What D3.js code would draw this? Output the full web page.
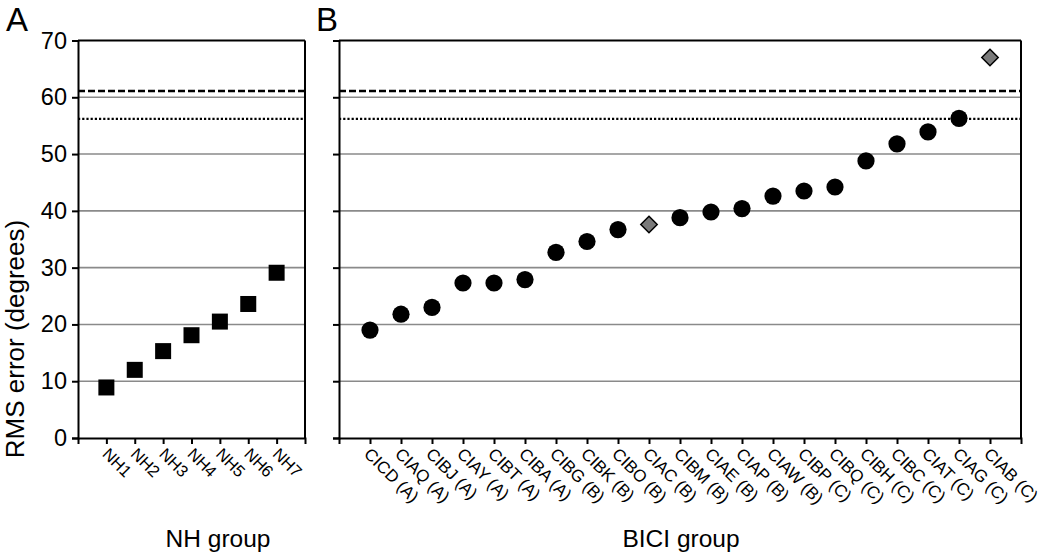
<!DOCTYPE html>
<html>
<head>
<meta charset="utf-8">
<script src="https://cdn.jsdelivr.net/npm/d3@7"></script>
<style>
  html, body { margin: 0; padding: 0; background: #fff; }
  svg { display: block; font-family: "Liberation Sans", Arial, Helvetica, sans-serif; }
</style>
</head>
<body>
<svg id="chart" width="1050" height="559"></svg>
<script>
// ---- data ----
const nhCategories = ["NH1", "NH2", "NH3", "NH4", "NH5", "NH6", "NH7"];
const nhValues = [8.9, 12.0, 15.3, 18.1, 20.5, 23.6, 29.1];

const biciCategories = ["CICD (A)", "CIAQ (A)", "CIBJ (A)", "CIAY (A)", "CIBT (A)", "CIBA (A)",
  "CIBG (B)", "CIBK (B)", "CIBO (B)", "CIAC (B)", "CIBM (B)", "CIAE (B)", "CIAP (B)", "CIAW (B)",
  "CIBP (C)", "CIBQ (C)", "CIBH (C)", "CIBC (C)", "CIAT (C)", "CIAG (C)", "CIAB (C)"];
const biciValues = [19.0, 21.8, 23.0, 27.3, 27.3, 27.9, 32.7, 34.6, 36.7, 37.6, 38.8, 39.8, 40.4,
  42.6, 43.5, 44.2, 48.8, 51.8, 53.9, 56.3, 67.0];
const biciDiamondCategories = ["CIAC (B)", "CIAB (C)"];

const yTicks = [0, 10, 20, 30, 40, 50, 60, 70];
const dashedRef = 61.1;
const dottedRef = 56.2;

const panelLabels = ["A", "B"];
const xTitles = ["NH group", "BICI group"];
const yTitle = "RMS error (degrees)";

// ---- layout ----
const svg = d3.select("#chart");
const plotTop = 40.5, plotBottom = 438;
const y = d3.scaleLinear().domain([0, 70]).range([plotBottom, plotTop]);

function drawPanel(opts) {
  const { x0, x1, categories, showYLabels, panelLabel, panelLabelX, xTitle, xTitleX, labelSize, labelDx, markers } = opts;
  const x = d3.scalePoint().domain(categories).range([x0, x1]).padding(1);
  const g = svg.append("g");

  // gridlines
  g.selectAll("line.grid").data(yTicks.filter(t => t > 0 && t < 70)).enter().append("line")
    .attr("x1", x0).attr("x2", x1)
    .attr("y1", d => y(d)).attr("y2", d => y(d))
    .attr("stroke", "#8a8a8a").attr("stroke-width", 1.6);

  // reference lines
  g.append("line").attr("x1", x0).attr("x2", x1)
    .attr("y1", y(dashedRef)).attr("y2", y(dashedRef))
    .attr("stroke", "#000").attr("stroke-width", 2.6).attr("stroke-dasharray", "7,3");
  g.append("line").attr("x1", x0).attr("x2", x1)
    .attr("y1", y(dottedRef)).attr("y2", y(dottedRef))
    .attr("stroke", "#000").attr("stroke-width", 2.2).attr("stroke-dasharray", "2.2,2");

  // frame top & right
  g.append("line").attr("x1", x0).attr("x2", x1).attr("y1", plotTop).attr("y2", plotTop)
    .attr("stroke", "#000").attr("stroke-width", 2);
  g.append("line").attr("x1", x1).attr("x2", x1).attr("y1", plotTop).attr("y2", plotBottom)
    .attr("stroke", "#000").attr("stroke-width", 2);

  // y axis
  const yAxis = d3.axisLeft(y).tickValues(yTicks).tickSize(6).tickPadding(5)
    .tickFormat(showYLabels ? d3.format("d") : () => "");
  const ya = g.append("g").attr("transform", `translate(${x0},0)`).call(yAxis);
  ya.attr("font-family", null);
  ya.selectAll("path, line").attr("stroke", "#000").attr("stroke-width", 2);
  ya.selectAll("text").attr("font-size", 23.5).attr("fill", "#000");

  // x axis
  const xAxis = d3.axisBottom(x).tickSize(6).tickSizeOuter(6).tickFormat(() => "");
  const xa = g.append("g").attr("transform", `translate(0,${plotBottom})`).call(xAxis);
  xa.selectAll("path, line").attr("stroke", "#000").attr("stroke-width", 2);

  // rotated x labels
  g.selectAll("text.xl").data(categories).enter().append("text")
    .attr("class", "xl")
    .attr("transform", d => `translate(${x(d) - labelDx},${plotBottom + 17}) rotate(45)`)
    .attr("text-anchor", "start")
    .attr("font-size", labelSize)
    .attr("fill", "#000")
    .text(d => d);

  // markers
  markers(g, x);

  // panel label
  svg.append("text").attr("x", panelLabelX).attr("y", 31).attr("font-size", 33)
    .attr("fill", "#000").text(panelLabel);
  // x title
  svg.append("text").attr("x", xTitleX).attr("y", 547).attr("text-anchor", "middle")
    .attr("font-size", 24.5).attr("fill", "#000").text(xTitle);
}

// Panel A
drawPanel({
  x0: 78, x1: 305, categories: nhCategories, showYLabels: true,
  panelLabel: panelLabels[0], panelLabelX: 6, xTitle: xTitles[0], xTitleX: 218,
  labelSize: 16.5, labelDx: 5,
  markers: (g, x) => {
    const s = 16;
    g.selectAll("rect.m").data(nhCategories).enter().append("rect")
      .attr("x", d => x(d) - s / 2)
      .attr("y", (d, i) => y(nhValues[i]) - s / 2)
      .attr("width", s).attr("height", s).attr("fill", "#000");
  }
});

// Panel B
drawPanel({
  x0: 339, x1: 1021, categories: biciCategories, showYLabels: false,
  panelLabel: panelLabels[1], panelLabelX: 316, xTitle: xTitles[1], xTitleX: 681,
  labelSize: 17, labelDx: 7,
  markers: (g, x) => {
    const pts = biciCategories.map((c, i) => ({ c, v: biciValues[i], diamond: biciDiamondCategories.includes(c) }));
    g.selectAll("circle.m").data(pts.filter(p => !p.diamond)).enter().append("circle")
      .attr("cx", d => x(d.c)).attr("cy", d => y(d.v)).attr("r", 8.6).attr("fill", "#000");
    const h = 8.2;
    g.selectAll("path.m").data(pts.filter(p => p.diamond)).enter().append("path")
      .attr("d", d => {
        const cx = x(d.c), cy = y(d.v);
        return `M${cx},${cy - h}L${cx + h},${cy}L${cx},${cy + h}L${cx - h},${cy}Z`;
      })
      .attr("fill", "#7a7a7a").attr("stroke", "#000").attr("stroke-width", 1.5);
  }
});

// y title
svg.append("text")
  .attr("transform", "translate(24,339) rotate(-90)")
  .attr("text-anchor", "middle")
  .attr("font-size", 26)
  .attr("fill", "#000")
  .text(yTitle);
</script>
</body>
</html>
